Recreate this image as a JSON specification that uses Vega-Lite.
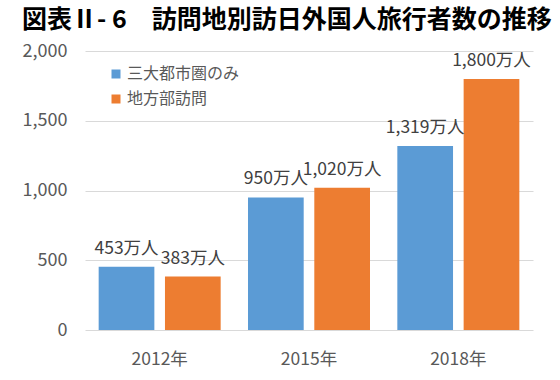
{
  "$schema": "https://vega.github.io/schema/vega-lite/v6.json",
  "width": 448,
  "height": 279,
  "autosize": "none",
  "padding": {"left": 85, "top": 51, "right": 27, "bottom": 50},
  "background": "white",
  "title": {
    "text": "図表Ⅱ- 6　訪問地別訪日外国人旅行者数の推移",
    "anchor": "start",
    "frame": "group",
    "dx": -63,
    "offset": 9,
    "font": "Noto Sans CJK JP",
    "fontSize": 25,
    "fontWeight": "bold",
    "color": "#000000"
  },
  "config": {"view": {"stroke": null}, "font": "Noto Sans CJK JP"},
  "data": {
    "values": [
      {"year": "2012年", "series": "三大都市圏のみ", "value": 453},
      {"year": "2012年", "series": "地方部訪問", "value": 383},
      {"year": "2015年", "series": "三大都市圏のみ", "value": 950},
      {"year": "2015年", "series": "地方部訪問", "value": 1020},
      {"year": "2018年", "series": "三大都市圏のみ", "value": 1319},
      {"year": "2018年", "series": "地方部訪問", "value": 1800}
    ]
  },
  "transform": [{"calculate": "format(datum.value, ',d') + '万人'", "as": "label"}],
  "encoding": {
    "x": {
      "field": "year", "type": "nominal",
      "scale": {"paddingInner": 0.183, "paddingOuter": 0.0915},
      "axis": {"title": null, "labelAngle": 0, "domain": false, "ticks": false, "labelFontSize": 17.5, "labelColor": "#595959", "labelPadding": 20}
    },
    "xOffset": {"field": "series", "type": "nominal", "sort": ["三大都市圏のみ", "地方部訪問"], "scale": {"paddingInner": 0.16}},
    "y": {
      "field": "value", "type": "quantitative",
      "scale": {"domain": [0, 2000]},
      "axis": {"title": null, "values": [0, 500, 1000, 1500, 2000], "format": ",d", "domain": false, "ticks": false, "gridColor": "#D9D9D9", "labelFontSize": 18, "labelColor": "#595959", "labelPadding": 18}
    }
  },
  "layer": [
    {
      "mark": {"type": "bar"},
      "encoding": {
        "color": {
          "field": "series", "type": "nominal",
          "scale": {"domain": ["三大都市圏のみ", "地方部訪問"], "range": ["#5B9BD5", "#ED7D31"]},
          "legend": {"title": null, "orient": "none", "legendX": 23, "legendY": 15, "symbolType": "square", "symbolSize": 81, "symbolStrokeWidth": 0, "labelFontSize": 16, "labelColor": "#595959", "rowPadding": 9, "labelOffset": 3}
        }
      }
    },
    {
      "mark": {"type": "text", "baseline": "middle", "dy": -18, "fontSize": 17.5, "color": "#404040"},
      "encoding": {"text": {"field": "label"}}
    }
  ]
}
